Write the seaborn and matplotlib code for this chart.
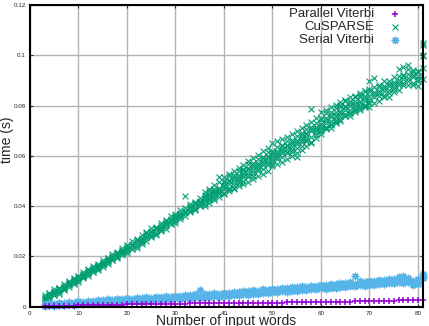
import matplotlib
matplotlib.use("Agg")
import numpy as np
import pandas as pd
import seaborn as sns
import matplotlib.pyplot as plt

# number of input words (one row of samples per word count)
words = [3, 4, 5, 6, 7, 8, 9, 10, 11, 12, 13, 14, 15, 16, 17, 18, 19, 20,
         21, 22, 23, 24, 25, 26, 27, 28, 29, 30, 31, 32, 33, 34, 35, 36, 37,
         38, 39, 40, 41, 42, 43, 44, 45, 46, 47, 48, 49, 50, 51, 52, 53, 54,
         55, 56, 57, 58, 59, 60, 61, 62, 63, 64, 65, 66, 67, 68, 69, 70, 71,
         72, 73, 74, 75, 76, 77, 78, 79, 80, 81]

# times in milliseconds
parallel_ms = [0.2, 0.25, 0.3, 0.3, 0.35, 0.4, 0.45, 0.5, 0.55, 0.6, 0.6, 0.65,
               0.7, 0.7, 0.75, 0.8, 0.85, 0.9, 0.9, 0.95, 1.0, 1.0, 1.05, 1.1,
               1.1, 1.15, 1.2, 1.2, 1.25, 1.25, 1.3, 1.3, 1.3, 1.35, 1.35, 1.4,
               1.4, 1.4, 1.45, 1.45, 1.5, 1.5, 1.5, 1.55, 1.55, 1.6, 1.6, 1.6,
               1.65, 1.65, 1.7, 1.7, 1.7, 1.75, 1.75, 1.8, 1.8, 1.85, 1.9, 1.9,
               1.95, 2.0, 2.0, 2.05, 2.1, 2.1, 2.15, 2.2, 2.25, 2.3, 2.3, 2.4,
               2.45, 2.5, 2.55, 2.6, 2.6, 2.7, 2.8]

cusparse_ms = [
    [2.1, 3.0, 3.8, 4.6, 3.4, 2.6], [5.3, 3.1, 4.7, 3.9, 5.6, 4.3],
    [4.7, 6.2, 5.4, 6.9, 4.5, 5.9], [6.9, 5.7, 7.6, 6.2, 7.3, 5.2],
    [6.6, 7.5, 8.3, 9.1, 7.9, 7.1], [9.9, 7.7, 9.3, 8.5, 10.2, 8.9],
    [9.4, 10.9, 10.1, 11.6, 9.2, 10.6], [11.7, 10.5, 12.4, 11.0, 12.1, 10.0],
    [11.3, 12.2, 13.0, 13.8, 12.6, 11.8], [14.6, 12.4, 14.0, 13.2, 14.9, 13.6],
    [14.0, 15.5, 14.7, 16.2, 13.8, 15.2], [16.3, 15.1, 17.0, 15.6, 16.7, 14.6],
    [15.9, 16.8, 17.6, 18.4, 17.2, 16.4], [19.2, 17.0, 18.6, 17.8, 19.5, 18.2],
    [18.7, 20.2, 19.4, 20.9, 18.5, 19.9], [21.0, 19.8, 21.7, 20.3, 21.4, 19.3],
    [20.7, 21.6, 22.4, 23.2, 22.0, 21.2], [24.3, 21.2, 23.4, 22.3, 24.6, 22.8],
    [23.1, 25.1, 24.0, 26.2, 22.8, 24.7], [25.9, 24.2, 26.9, 25.0, 26.4, 23.5],
    [25.1, 26.3, 27.4, 28.5, 26.9, 25.8], [29.3, 26.2, 28.4, 27.3, 29.6, 27.8],
    [28.1, 30.1, 29.0, 31.2, 27.8, 29.7], [30.8, 29.1, 31.8, 29.9, 31.3, 28.4],
    [30.0, 31.2, 32.3, 33.4, 31.8, 30.7], [34.2, 31.1, 33.3, 32.2, 34.5, 32.7],
    [33.0, 35.0, 33.9, 36.1, 32.7, 34.6], [35.7, 34.0, 36.7, 34.8, 36.2, 33.3],
    [35.0, 36.2, 37.3, 38.4, 36.8, 35.7], [39.1, 36.0, 38.2, 37.1, 44.0, 37.6],
    [37.9, 39.9, 38.8, 41.0, 37.6, 39.5], [40.7, 39.0, 41.7, 39.8, 41.2, 38.3],
    [39.9, 41.1, 42.2, 43.3, 41.7, 40.6],
    [44.1, 41.0, 43.2, 42.1, 44.4, 42.6, 40.0, 45.6],
    [42.9, 44.9, 43.8, 46.0, 42.6, 44.5, 41.3, 46.9],
    [45.7, 44.0, 46.7, 44.8, 46.2, 43.3, 42.4, 48.3],
    [44.9, 46.1, 47.2, 51.5, 46.7, 45.6, 43.5, 49.6],
    [49.6, 45.2, 48.3, 46.8, 50.1, 47.5, 45.0, 51.5],
    [47.4, 50.3, 48.7, 51.9, 46.9, 49.8, 45.9, 52.6],
    [50.7, 48.4, 52.3, 49.4, 51.5, 47.3, 46.8, 53.9],
    [49.1, 50.9, 52.4, 54.0, 51.7, 50.1, 47.9, 55.0],
    [54.4, 50.0, 53.1, 51.6, 54.9, 52.3, 48.7, 56.4],
    [52.2, 55.1, 53.5, 56.7, 51.7, 54.6, 49.6, 57.8],
    [55.5, 53.2, 57.1, 54.2, 56.3, 52.1, 50.7, 59.1],
    [53.9, 55.7, 57.2, 58.8, 56.5, 54.9, 51.8, 60.4],
    [59.2, 54.8, 57.9, 56.4, 59.7, 57.1, 52.9, 61.9],
    [57.0, 59.9, 58.3, 61.5, 56.5, 59.4, 54.1, 63.0],
    [60.3, 58.0, 61.9, 59.0, 61.1, 56.9, 55.8, 65.0],
    [58.7, 60.5, 62.0, 63.6, 61.3, 59.7, 56.8, 65.9],
    [63.9, 59.5, 62.6, 61.1, 64.4, 61.8, 57.6, 66.7],
    [61.6, 64.5, 62.9, 66.1, 61.1, 64.0, 58.9, 67.6],
    [64.8, 62.5, 66.4, 63.5, 65.6, 61.4, 59.8, 68.8],
    [63.1, 64.9, 66.4, 68.0, 65.7, 59.5, 61.2, 69.8],
    [68.4, 64.0, 67.1, 65.6, 68.9, 66.3, 62.4, 71.0],
    [66.3, 69.2, 67.6, 70.8, 65.8, 68.7, 63.9, 72.2],
    [69.7, 67.4, 71.3, 78.5, 70.5, 65.0, 65.5, 73.4],
    [68.3, 70.1, 71.6, 73.2, 70.9, 69.3, 67.0, 75.0],
    [74.2, 68.8, 72.6, 70.7, 74.9, 71.7, 69.8, 77.4],
    [71.5, 75.0, 73.1, 76.9, 70.8, 74.4, 71.0, 78.3],
    [75.3, 72.5, 77.3, 73.7, 76.3, 71.2, 72.2, 79.4],
    [73.1, 75.4, 77.3, 79.2, 76.3, 74.4, 73.5, 80.3],
    [79.4, 74.0, 77.8, 75.9, 80.1, 76.9, 74.7, 81.3],
    [76.5, 80.0, 78.1, 81.9, 75.8, 79.4, 76.0, 82.4],
    [80.0, 77.2, 82.0, 78.4, 81.0, 75.9, 77.0, 83.3],
    [77.5, 79.8, 81.7, 83.6, 80.7, 78.8, 78.1, 84.0],
    [83.5, 78.1, 81.9, 80.0, 84.2, 81.0, 79.2, 84.9],
    [80.3, 83.8, 81.9, 85.7, 79.6, 83.2, 80.0, 85.8],
    [83.7, 80.9, 85.7, 82.1, 89.7, 79.6, 81.0, 86.6],
    [81.2, 83.5, 85.4, 87.3, 84.4, 91.0], [87.3, 81.9, 85.7, 83.8, 88.0, 84.8],
    [84.2, 87.7, 85.8, 89.6, 83.5, 87.1], [87.7, 84.9, 89.7, 86.1, 88.7, 83.6],
    [85.2, 87.5, 89.4, 91.3, 88.4, 86.5], [91.6, 86.2, 90.0, 88.1, 94.5, 89.1],
    [88.8, 92.3, 90.4, 95.5, 88.1, 91.7], [92.4, 89.6, 94.4, 90.8, 96.0, 88.3],
    [89.1, 91.4, 93.3, 94.0, 92.3, 88.0], [93.2, 87.8, 91.6, 89.7, 93.9, 90.7],
    [90.7, 99.9, 104.7, 100.2, 104.2, 95.0],
]

serial_ms = [
    [0.4, 0.7, 1.0, 0.2], [0.5, 0.8, 1.1, 1.3], [0.6, 0.9, 1.2, 0.3], [0.7, 1.0, 1.3, 1.6],
    [0.8, 1.1, 1.4, 0.5], [0.9, 1.2, 1.5, 1.8], [1.0, 1.3, 1.6, 0.7], [1.1, 1.4, 1.8, 2.1],
    [1.2, 1.6, 1.9, 0.9], [1.3, 1.7, 2.0, 2.3], [1.5, 1.8, 2.2, 1.2], [1.6, 1.9, 2.3, 2.6],
    [1.7, 2.1, 2.5, 1.4], [1.8, 2.2, 2.6, 2.9], [2.0, 2.3, 2.7, 1.7], [2.1, 2.5, 2.9, 3.2],
    [2.2, 2.6, 3.0, 1.9], [2.3, 2.7, 3.1, 3.4], [2.4, 2.8, 3.2, 2.1], [2.5, 2.9, 3.3, 3.6],
    [2.6, 3.0, 3.4, 2.3], [2.7, 3.1, 3.5, 3.8], [2.8, 3.2, 3.6, 2.5], [2.9, 3.3, 3.7, 4.0],
    [3.0, 3.4, 3.8, 2.7], [3.1, 3.5, 3.9, 4.2], [3.2, 3.6, 4.0, 2.9], [3.3, 3.7, 4.1, 4.4],
    [3.4, 3.8, 4.2, 3.1], [3.5, 3.9, 4.4, 4.7], [3.6, 4.0, 4.5, 3.3], [3.7, 4.2, 4.6, 4.9],
    [3.8, 4.3, 6.7, 3.5], [3.9, 4.4, 4.8, 5.1], [4.0, 4.5, 4.9, 3.7], [4.1, 4.6, 5.0, 5.3],
    [4.2, 4.7, 5.2, 3.9], [4.3, 4.8, 5.3, 5.6], [4.5, 5.0, 5.5, 4.2], [4.6, 5.1, 5.6, 5.9],
    [4.8, 5.3, 5.8, 4.5], [4.9, 5.4, 5.9, 6.2], [5.1, 5.6, 6.1, 4.8], [5.2, 5.7, 6.2, 6.5],
    [5.4, 5.9, 6.4, 5.1], [5.5, 6.0, 6.6, 6.9], [5.7, 6.2, 6.7, 5.4], [5.8, 6.4, 6.9, 7.2],
    [6.0, 6.5, 7.1, 5.7], [6.1, 6.7, 7.2, 7.5], [6.3, 6.8, 7.4, 6.0], [6.4, 7.0, 7.5, 7.8],
    [6.6, 7.1, 7.7, 6.3], [6.7, 7.3, 7.8, 8.1], [6.9, 7.4, 8.0, 6.6], [7.0, 7.6, 8.1, 8.4],
    [7.2, 7.7, 8.3, 6.9], [7.3, 7.9, 8.5, 8.8], [7.5, 8.1, 8.6, 7.2], [7.6, 8.2, 8.8, 9.1],
    [7.8, 8.4, 9.0, 7.5], [7.9, 8.5, 9.1, 9.4], [8.1, 8.7, 9.3, 7.8], [8.2, 8.8, 9.4, 9.7],
    [8.4, 9.0, 12.3, 8.1], [8.5, 9.1, 9.8, 10.1], [8.7, 9.3, 9.9, 8.4], [8.8, 9.5, 10.1, 10.4],
    [9.0, 9.6, 10.3, 8.7], [9.1, 9.8, 10.4, 10.7], [9.3, 9.9, 10.6, 9.0], [9.4, 10.1, 10.7, 11.0],
    [9.6, 10.3, 10.9, 9.3], [9.7, 10.4, 11.8, 11.1], [9.9, 10.6, 12.3, 9.6], [9.8, 10.5, 11.2, 11.5],
    [8.7, 9.6, 10.3, 9.0], [9.2, 10.2, 10.8, 11.1], [11.4, 12.3, 12.9, 11.8],
]

xticks = [0, 10, 20, 30, 40, 50, 60, 70, 80]
yticks = [0, 0.02, 0.04, 0.06, 0.08, 0.1, 0.12]
ytick_labels = ["0", "0.02", "0.04", "0.06", "0.08", "0.1", "0.12"]

# long table
rows = []
for i, w in enumerate(words):
    rows.append((w, parallel_ms[i] / 1000.0, "Parallel Viterbi"))
    for v in cusparse_ms[i]:
        rows.append((w, v / 1000.0, "CuSPARSE"))
    for v in serial_ms[i]:
        rows.append((w, v / 1000.0, "Serial Viterbi"))
df = pd.DataFrame(rows, columns=["words", "time", "method"])

sns.set_style("ticks")
plt.rcParams['font.family'] = ['Liberation Sans', 'DejaVu Sans']

fig = plt.figure(figsize=(4.29, 3.26), dpi=100)
ax = fig.add_axes([0.0699, 0.0592, 0.9157, 0.9255])

# name, marker, colour, size, line width, z-order
series = [("Parallel Viterbi", "+", "#9400d3", 24, 1.1, 4),
          ("CuSPARSE", "x", "#009e73", 18, 0.8, 2),
          ("Serial Viterbi", (8, 2, 0), "#56b4e9", 22, 1.0, 3)]
for name, mk, col, sz, lw, z in series:
    sns.scatterplot(data=df[df["method"] == name], x="words", y="time",
                    marker=mk, color=col, s=sz, linewidth=lw, zorder=z,
                    label=name, ax=ax, clip_on=False)

ax.set_xlim(0, 81)
ax.set_ylim(0, 0.12)
ax.set_xticks(xticks)
ax.set_yticks(yticks)
ax.set_yticklabels(ytick_labels)
ax.grid(True, color="#b4b4b4", linewidth=1.0)
ax.set_axisbelow(True)
ax.tick_params(axis="both", labelsize=4.5, direction="in", length=2.5,
               width=0.8, top=True, right=True, pad=3)
for sp in ax.spines.values():
    sp.set_linewidth(1.5)
    sp.set_color("black")
    sp.set_zorder(5)

ax.set_xlabel("Number of input words", fontsize=10)
ax.set_ylabel("time (s)", fontsize=10)
ax.xaxis.set_label_coords(0.5, -0.025)
ax.yaxis.set_label_coords(-0.04, 0.553)

ax.legend(loc="upper right", bbox_to_anchor=(0.98, 1.02), markerfirst=False,
          frameon=False, fontsize=9.5, handletextpad=0.8, handlelength=1.6,
          labelspacing=0.05, borderaxespad=0.3, markerscale=1.0)

fig.savefig("out.png", dpi=100)
